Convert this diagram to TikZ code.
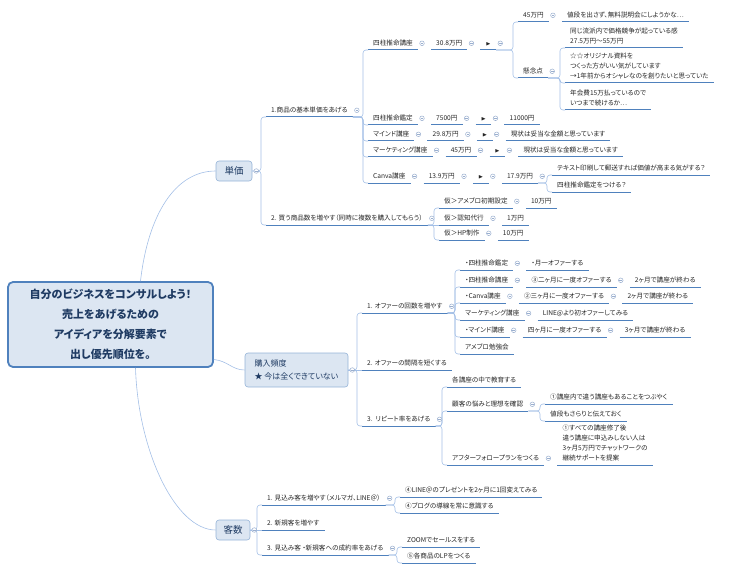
\documentclass[tikz,border=0pt]{standalone}
\usepackage{amsmath,amssymb}
\usepackage{fontspec}
\newfontfamily\jpfont[RawFeature=+palt]{Noto Sans CJK JP}
\newcommand{\nextmark}{{\fontsize{5}{5}\selectfont$\blacktriangleright$}}
\definecolor{ulblue}{HTML}{4F81BD}
\definecolor{lnblue}{HTML}{A3BFE6}
\definecolor{foldc}{HTML}{9AAFCF}
\definecolor{boxfill}{HTML}{DCE6F2}
\definecolor{boxline}{HTML}{95B3D7}
\definecolor{navy}{HTML}{1F3B63}
\tikzset{
  sub/.style={anchor=south west, inner xsep=5pt, inner ysep=1.5pt, align=left,
    font=\jpfont\fontsize{6.6}{10}\selectfont, text=black!85,
    execute at begin node=\strut, execute at end node=\strut,
    append after command={(\tikzlastnode.south west) edge[uline] (\tikzlastnode.south east)}},
  uline/.style={draw=ulblue, line width=1pt},
  link/.style={draw=lnblue, line width=0.6pt, rounded corners=3pt},
  fold/.style={circle, draw=foldc, fill=white, line width=0.5pt, inner sep=0pt, minimum size=4.6pt,
    path picture={\draw[foldc, line width=0.5pt] ([xshift=-1.3pt]path picture bounding box.center) -- ([xshift=1.3pt]path picture bounding box.center);}},
  topic/.style={draw=boxline, fill=boxfill, rounded corners=3pt, line width=0.6pt, text=navy,
    font=\jpfont\fontsize{9.5}{11}\selectfont, inner sep=0pt, minimum height=20pt},
  root/.style={draw=ulblue, fill=boxfill, rounded corners=5pt, line width=1.8pt, text=navy, align=center,
    font=\jpfont\bfseries\fontsize{11}{20}\selectfont, minimum width=205pt, minimum height=85pt}
}
\begin{document}
\begin{tikzpicture}[x=1pt,y=-1pt]
\useasboundingbox (0,0) rectangle (735,572);
\node[root] (root) at (110.5,324.5) {自分のビジネスをコンサルしよう！\\売上をあげるための\\アイディアを分解要素で\\出し優先順位を。};
\node[topic,minimum width=36pt] (tanka) at (234,171) {単価};
\node[topic,minimum width=103pt,minimum height=34pt,align=left,font=\jpfont\fontsize{8}{13}\selectfont] (hindo) at (296.5,370) {購入頻度\\★ 今は全くできていない};
\node[topic,minimum width=34pt] (kyaku) at (233,530) {客数};
\node[sub] (s1) at (266,117) {1.商品の基本単価をあげる};
\node[sub] (s2) at (266,225) {2. 買う商品数を増やす（同時に複数を購入してもらう）};
\node[sub] (a1) at (368,50) {四柱推命講座};
\node[sub] (a2) at ([xshift=13pt]a1.south east) {30.8万円};
\node[sub] (a3) at ([xshift=13pt]a2.south east) {\nextmark};
\node[sub] (a4) at (518,22) {45万円};
\node[sub] (a5) at ([xshift=13pt]a4.south east) {値段を出さず、無料説明会にしようかな…};
\node[sub] (a6) at (518,78) {懸念点};
\node[sub] (a7) at (565,48) {同じ流派内で価格競争が起っている感\\27.5万円～55万円};
\node[sub] (a8) at (565,83) {☆☆オリジナル資料を\\つくった方がいい気がしています\\→1年前からオシャレなのを創りたいと思っていた};
\node[sub] (a9) at (565,110) {年会費15万払っているので\\いつまで続けるか…};
\node[sub] (b1) at (368,125) {四柱推命鑑定};
\node[sub] (b2) at ([xshift=13pt]b1.south east) {7500円};
\node[sub] (b3) at ([xshift=13pt]b2.south east) {\nextmark};
\node[sub] (b4) at ([xshift=13pt]b3.south east) {11000円};
\node[sub] (c1) at (368,141) {マインド講座};
\node[sub] (c2) at ([xshift=13pt]c1.south east) {29.8万円};
\node[sub] (c3) at ([xshift=13pt]c2.south east) {\nextmark};
\node[sub] (c4) at ([xshift=13pt]c3.south east) {現状は妥当な金額と思っています};
\node[sub] (d1) at (368,157) {マーケティング講座};
\node[sub] (d2) at ([xshift=13pt]d1.south east) {45万円};
\node[sub] (d3) at ([xshift=13pt]d2.south east) {\nextmark};
\node[sub] (d4) at ([xshift=13pt]d3.south east) {現状は妥当な金額と思っています};
\node[sub] (e1) at (368,183) {Canva講座};
\node[sub] (e2) at ([xshift=13pt]e1.south east) {13.9万円};
\node[sub] (e3) at ([xshift=13pt]e2.south east) {\nextmark};
\node[sub] (e4) at ([xshift=13pt]e3.south east) {17.9万円};
\node[sub] (e5) at (552,175) {テキスト印刷して郵送すれば価値が高まる気がする？};
\node[sub] (e6) at (552,192) {四柱推命鑑定をつける？};
\node[sub] (t1) at (439,208) {仮＞アメブロ初期設定};
\node[sub] (t1b) at ([xshift=13pt]t1.south east) {10万円};
\node[sub] (t2) at (439,225) {仮＞認知代行};
\node[sub] (t2b) at ([xshift=13pt]t2.south east) {1万円};
\node[sub] (t3) at (439,240) {仮＞HP制作};
\node[sub] (t3b) at ([xshift=13pt]t3.south east) {10万円};
\node[sub] (p1) at (362,313) {1. オファーの回数を増やす};
\node[sub] (p2) at (362,370) {2. オファーの間隔を短くする};
\node[sub] (p3) at (362,426) {3.\ \ リピート率をあげる};
\node[sub] (q1) at (460,270) {・四柱推命鑑定};
\node[sub] (q1b) at ([xshift=13pt]q1.south east) {・月一オファーする};
\node[sub] (q2) at (460,287) {・四柱推命講座};
\node[sub] (q2b) at ([xshift=13pt]q2.south east) {③二ヶ月に一度オファーする};
\node[sub] (q2c) at ([xshift=13pt]q2b.south east) {2ヶ月で講座が終わる};
\node[sub] (q3) at (460,303) {・Canva講座};
\node[sub] (q3b) at ([xshift=13pt]q3.south east) {②三ヶ月に一度オファーする};
\node[sub] (q3c) at ([xshift=13pt]q3b.south east) {2ヶ月で講座が終わる};
\node[sub] (q4) at (460,320) {マーケティング講座};
\node[sub] (q4b) at ([xshift=13pt]q4.south east) {LINE@より初オファーしてみる};
\node[sub] (q5) at (460,337) {・マインド講座};
\node[sub] (q5b) at ([xshift=13pt]q5.south east) {四ヶ月に一度オファーする};
\node[sub] (q5c) at ([xshift=13pt]q5b.south east) {3ヶ月で講座が終わる};
\node[sub] (q6) at (460,354) {アメブロ勉強会};
\node[sub] (r1) at (447,387) {各講座の中で教育する};
\node[sub] (r2) at (447,411) {顧客の悩みと理想を確認};
\node[sub] (r2a) at (545,404) {①講座内で違う講座もあることをつぶやく};
\node[sub] (r2b) at (545,421) {値段もさらりと伝えておく};
\node[sub] (r3) at (447,465) {アフターフォロープランをつくる};
\node[sub] (r3a) at ([xshift=13pt]r3.south east) {①すべての講座修了後\\違う講座に申込みしない人は\\3ヶ月5万円でチャットワークの\\継続サポートを提案};
\node[sub] (k1) at (262,505) {1. 見込み客を増やす（メルマガ、LINE＠）};
\node[sub] (k1a) at (400,497) {④LINE＠のプレゼントを2ヶ月に1回変えてみる};
\node[sub] (k1b) at (400,513) {④ブログの導線を常に意識する};
\node[sub] (k2) at (262,530) {2. 新規客を増やす};
\node[sub] (k3) at (262,555) {3. 見込み客\ ・新規客への成約率をあげる};
\node[sub] (k3a) at (402,547) {ZOOMでセールスをする};
\node[sub] (k3b) at (402,563) {⑤各商品のLPをつくる};
\draw[link] ([xshift=30pt]root.north) .. controls (148,215) and (175,171) .. (tanka.west);
\draw[link] ([yshift=-35pt]root.east) .. controls (228,361) and (232,370) .. (hindo.west);
\draw[link] ([xshift=25pt]root.south) .. controls (138,450) and (175,530) .. (kyaku.west);
\draw[link] (tanka.east) -| ([xshift=-5pt]s1.south west) -- (s1.south west);
\draw[link] (tanka.east) -| ([xshift=-5pt]s2.south west) -- (s2.south west);
\draw[link] (s1.south east) -| ([xshift=-5pt]a1.south west) -- (a1.south west);
\draw[link] (s1.south east) -| ([xshift=-5pt]b1.south west) -- (b1.south west);
\draw[link] (s1.south east) -| ([xshift=-5pt]c1.south west) -- (c1.south west);
\draw[link] (s1.south east) -| ([xshift=-5pt]d1.south west) -- (d1.south west);
\draw[link] (s1.south east) -| ([xshift=-5pt]e1.south west) -- (e1.south west);
\draw[link] (a3.south east) -| ([xshift=-5pt]a4.south west) -- (a4.south west);
\draw[link] (a3.south east) -| ([xshift=-5pt]a6.south west) -- (a6.south west);
\draw[link] (a6.south east) -| ([xshift=-5pt]a7.south west) -- (a7.south west);
\draw[link] (a6.south east) -| ([xshift=-5pt]a8.south west) -- (a8.south west);
\draw[link] (a6.south east) -| ([xshift=-5pt]a9.south west) -- (a9.south west);
\draw[link] (e4.south east) -| ([xshift=-5pt]e5.south west) -- (e5.south west);
\draw[link] (e4.south east) -| ([xshift=-5pt]e6.south west) -- (e6.south west);
\draw[link] (s2.south east) -| ([xshift=-5pt]t1.south west) -- (t1.south west);
\draw[link] (s2.south east) -- (t2.south west);
\draw[link] (s2.south east) -| ([xshift=-5pt]t3.south west) -- (t3.south west);
\draw[link] (hindo.east) -| ([xshift=-5pt]p1.south west) -- (p1.south west);
\draw[link] (hindo.east) -- (p2.south west);
\draw[link] (hindo.east) -| ([xshift=-5pt]p3.south west) -- (p3.south west);
\draw[link] (p1.south east) -| ([xshift=-5pt]q1.south west) -- (q1.south west);
\draw[link] (p1.south east) -| ([xshift=-5pt]q2.south west) -- (q2.south west);
\draw[link] (p1.south east) -| ([xshift=-5pt]q3.south west) -- (q3.south west);
\draw[link] (p1.south east) -| ([xshift=-5pt]q4.south west) -- (q4.south west);
\draw[link] (p1.south east) -| ([xshift=-5pt]q5.south west) -- (q5.south west);
\draw[link] (p1.south east) -| ([xshift=-5pt]q6.south west) -- (q6.south west);
\draw[link] (p3.south east) -| ([xshift=-5pt]r1.south west) -- (r1.south west);
\draw[link] (p3.south east) -| ([xshift=-5pt]r2.south west) -- (r2.south west);
\draw[link] (p3.south east) -| ([xshift=-5pt]r3.south west) -- (r3.south west);
\draw[link] (r2.south east) -| ([xshift=-5pt]r2a.south west) -- (r2a.south west);
\draw[link] (r2.south east) -| ([xshift=-5pt]r2b.south west) -- (r2b.south west);
\draw[link] (kyaku.east) -| ([xshift=-5pt]k1.south west) -- (k1.south west);
\draw[link] (kyaku.east) -- (k2.south west);
\draw[link] (kyaku.east) -| ([xshift=-5pt]k3.south west) -- (k3.south west);
\draw[link] (k1.south east) -| ([xshift=-5pt]k1a.south west) -- (k1a.south west);
\draw[link] (k1.south east) -| ([xshift=-5pt]k1b.south west) -- (k1b.south west);
\draw[link] (k3.south east) -| ([xshift=-5pt]k3a.south west) -- (k3a.south west);
\draw[link] (k3.south east) -| ([xshift=-5pt]k3b.south west) -- (k3b.south west);
\node[fold] (tankaf) at ([xshift=4pt]tanka.east) {};
\node[fold] (hindof) at ([xshift=4pt]hindo.east) {};
\node[fold] (kyakuf) at ([xshift=4pt]kyaku.east) {};
\node[fold] (s1f) at ([xshift=4pt]s1.east) {};
\node[fold] (s2f) at ([xshift=4pt]s2.east) {};
\node[fold] (a1f) at ([xshift=4pt]a1.east) {};
\node[fold] (a2f) at ([xshift=4pt]a2.east) {};
\node[fold] (a3f) at ([xshift=4pt]a3.east) {};
\node[fold] (a4f) at ([xshift=4pt]a4.east) {};
\node[fold] (a6f) at ([xshift=4pt]a6.east) {};
\node[fold] (b1f) at ([xshift=4pt]b1.east) {};
\node[fold] (b2f) at ([xshift=4pt]b2.east) {};
\node[fold] (b3f) at ([xshift=4pt]b3.east) {};
\node[fold] (c1f) at ([xshift=4pt]c1.east) {};
\node[fold] (c2f) at ([xshift=4pt]c2.east) {};
\node[fold] (c3f) at ([xshift=4pt]c3.east) {};
\node[fold] (d1f) at ([xshift=4pt]d1.east) {};
\node[fold] (d2f) at ([xshift=4pt]d2.east) {};
\node[fold] (d3f) at ([xshift=4pt]d3.east) {};
\node[fold] (e1f) at ([xshift=4pt]e1.east) {};
\node[fold] (e2f) at ([xshift=4pt]e2.east) {};
\node[fold] (e3f) at ([xshift=4pt]e3.east) {};
\node[fold] (e4f) at ([xshift=4pt]e4.east) {};
\node[fold] (t1f) at ([xshift=4pt]t1.east) {};
\node[fold] (t2f) at ([xshift=4pt]t2.east) {};
\node[fold] (t3f) at ([xshift=4pt]t3.east) {};
\node[fold] (p1f) at ([xshift=4pt]p1.east) {};
\node[fold] (p3f) at ([xshift=4pt]p3.east) {};
\node[fold] (q1f) at ([xshift=4pt]q1.east) {};
\node[fold] (q2f) at ([xshift=4pt]q2.east) {};
\node[fold] (q2bf) at ([xshift=4pt]q2b.east) {};
\node[fold] (q3f) at ([xshift=4pt]q3.east) {};
\node[fold] (q3bf) at ([xshift=4pt]q3b.east) {};
\node[fold] (q4f) at ([xshift=4pt]q4.east) {};
\node[fold] (q5f) at ([xshift=4pt]q5.east) {};
\node[fold] (q5bf) at ([xshift=4pt]q5b.east) {};
\node[fold] (r2f) at ([xshift=4pt]r2.east) {};
\node[fold] (r3f) at ([xshift=4pt]r3.east) {};
\node[fold] (k1f) at ([xshift=4pt]k1.east) {};
\node[fold] (k3f) at ([xshift=4pt]k3.east) {};
\end{tikzpicture}
\end{document}
